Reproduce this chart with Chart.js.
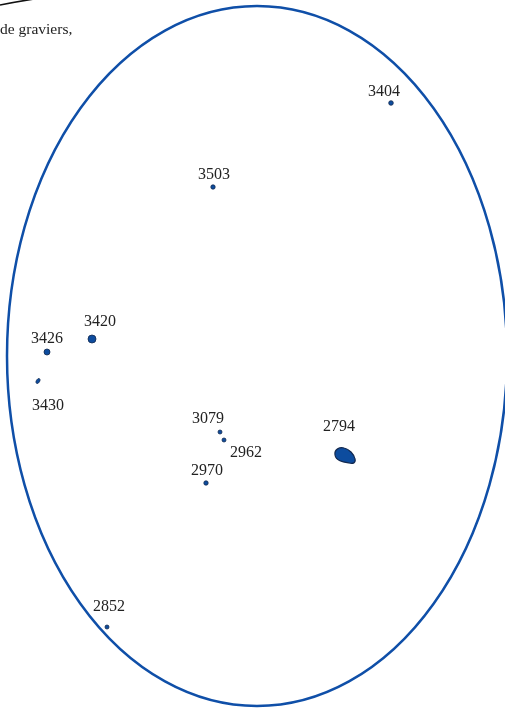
<!DOCTYPE html>
<html><head><meta charset="utf-8">
<script src="https://cdn.jsdelivr.net/npm/chart.js@4/dist/chart.umd.min.js"></script>
<style>html,body{margin:0;padding:0;background:#fff;overflow:hidden}#wrap{position:relative;width:505px;height:708px}</style>
</head><body><div id="wrap"><canvas id="c"></canvas></div>
<script>
// Feature numbers and their plan positions (map units)
const ids = ['3404','3503','3420','3426','3430','3079','2962','2970','2794','2852'];
const xs  = [391, 213, 92, 47, 38, 220, 224, 206, 345, 107];
const ys  = [103, 187, 339, 352, 381, 432, 440, 483, 456, 627];
// Enclosure outline (ellipse) in map units
const enclosureCenter = [257, 356];
const enclosureRadii  = [250, 350];
// Caption fragment
const captionText = 'de graviers,';

// ---- styles (kept apart from data) ----
const labelDx = [-7, 1, 8, 0, 10, -12, 22, 1, -6, 2];
const labelDy = [-11, -12, -17, -13, 25, -13, 13, -12, -29, -20];
const pointSizes = [2.3, 2.2, 4, 3, 3, 2, 2, 2.2, 10, 2];
const FILL = '#0d4c9e', EDGE = '#13294f', RING = '#0f4fa8';

function blob(){
  const c = document.createElement('canvas'); c.width = 26; c.height = 20;
  const g = c.getContext('2d');
  g.beginPath();
  g.moveTo(3, 9);
  g.bezierCurveTo(2, 3, 8, 1, 12, 2);
  g.bezierCurveTo(17, 3, 22, 8, 23, 13);
  g.bezierCurveTo(24, 17, 21, 18, 17, 17);
  g.bezierCurveTo(11, 16, 4, 15, 3, 9);
  g.closePath();
  g.fillStyle = FILL; g.fill();
  g.lineWidth = 1.2; g.strokeStyle = EDGE; g.stroke();
  return c;
}
function smallOval(){
  const c = document.createElement('canvas'); c.width = 8; c.height = 8;
  const g = c.getContext('2d');
  g.beginPath(); g.ellipse(4, 4, 2.8, 1.7, -1.0, 0, Math.PI*2);
  g.fillStyle = FILL; g.fill(); g.lineWidth = 0.7; g.strokeStyle = EDGE; g.stroke();
  return c;
}
const blobImg = blob(), ovalImg = smallOval();
const pointStyles = ids.map(id => id === '2794' ? blobImg : (id === '3430' ? ovalImg : 'circle'));

const decor = {
  id: 'decor',
  beforeDatasetsDraw(chart){
    const {ctx, scales:{x, y}} = chart;
    ctx.save();
    // enclosure ellipse
    const px = x.getPixelForValue(enclosureCenter[0]);
    const py = y.getPixelForValue(enclosureCenter[1]);
    const rpx = Math.abs(x.getPixelForValue(enclosureCenter[0] + enclosureRadii[0]) - px);
    const rpy = Math.abs(y.getPixelForValue(enclosureCenter[1] + enclosureRadii[1]) - py);
    ctx.beginPath(); ctx.ellipse(px, py, rpx, rpy, 0, 0, Math.PI*2);
    ctx.lineWidth = 2.5; ctx.strokeStyle = RING; ctx.stroke();
    // neighbouring outline at top-left
    ctx.beginPath();
    ctx.moveTo(x.getPixelForValue(0), y.getPixelForValue(5));
    ctx.quadraticCurveTo(x.getPixelForValue(15), y.getPixelForValue(2), x.getPixelForValue(34), y.getPixelForValue(-1));
    ctx.lineWidth = 1.6; ctx.strokeStyle = '#111'; ctx.stroke();
    // caption fragment
    ctx.fillStyle = '#222'; ctx.font = '15.5px "Liberation Serif", "Times New Roman", serif';
    ctx.textAlign = 'left'; ctx.textBaseline = 'middle';
    ctx.fillText(captionText, x.getPixelForValue(0), y.getPixelForValue(30));
    ctx.restore();
  },
  afterDatasetsDraw(chart){
    const {ctx, scales:{x, y}} = chart;
    ctx.save();
    ctx.fillStyle = '#222'; ctx.font = '16px "Liberation Serif", "Times New Roman", serif';
    ctx.textAlign = 'center'; ctx.textBaseline = 'middle';
    ids.forEach((id, i) => {
      ctx.fillText(id, x.getPixelForValue(xs[i]) + labelDx[i], y.getPixelForValue(ys[i]) + labelDy[i]);
    });
    ctx.restore();
  }
};

new Chart(document.getElementById('c'), {
  type: 'scatter',
  data: { datasets: [{
    data: ids.map((id, i) => ({x: xs[i], y: ys[i]})),
    pointRadius: pointSizes,
    pointStyle: pointStyles,
    backgroundColor: FILL,
    borderColor: EDGE,
    borderWidth: 0.8,
    clip: false
  }]},
  options: {
    responsive: true, maintainAspectRatio: false, animation: false,
    layout: { padding: 0, autoPadding: false },
    plugins: { legend: {display: false}, tooltip: {enabled: false} },
    scales: {
      x: { type: 'linear', min: 0, max: 505, display: false },
      y: { type: 'linear', min: 0, max: 708, reverse: true, display: false }
    },
    elements: { point: { hoverRadius: 0 } }
  },
  plugins: [decor]
});
</script></body></html>
